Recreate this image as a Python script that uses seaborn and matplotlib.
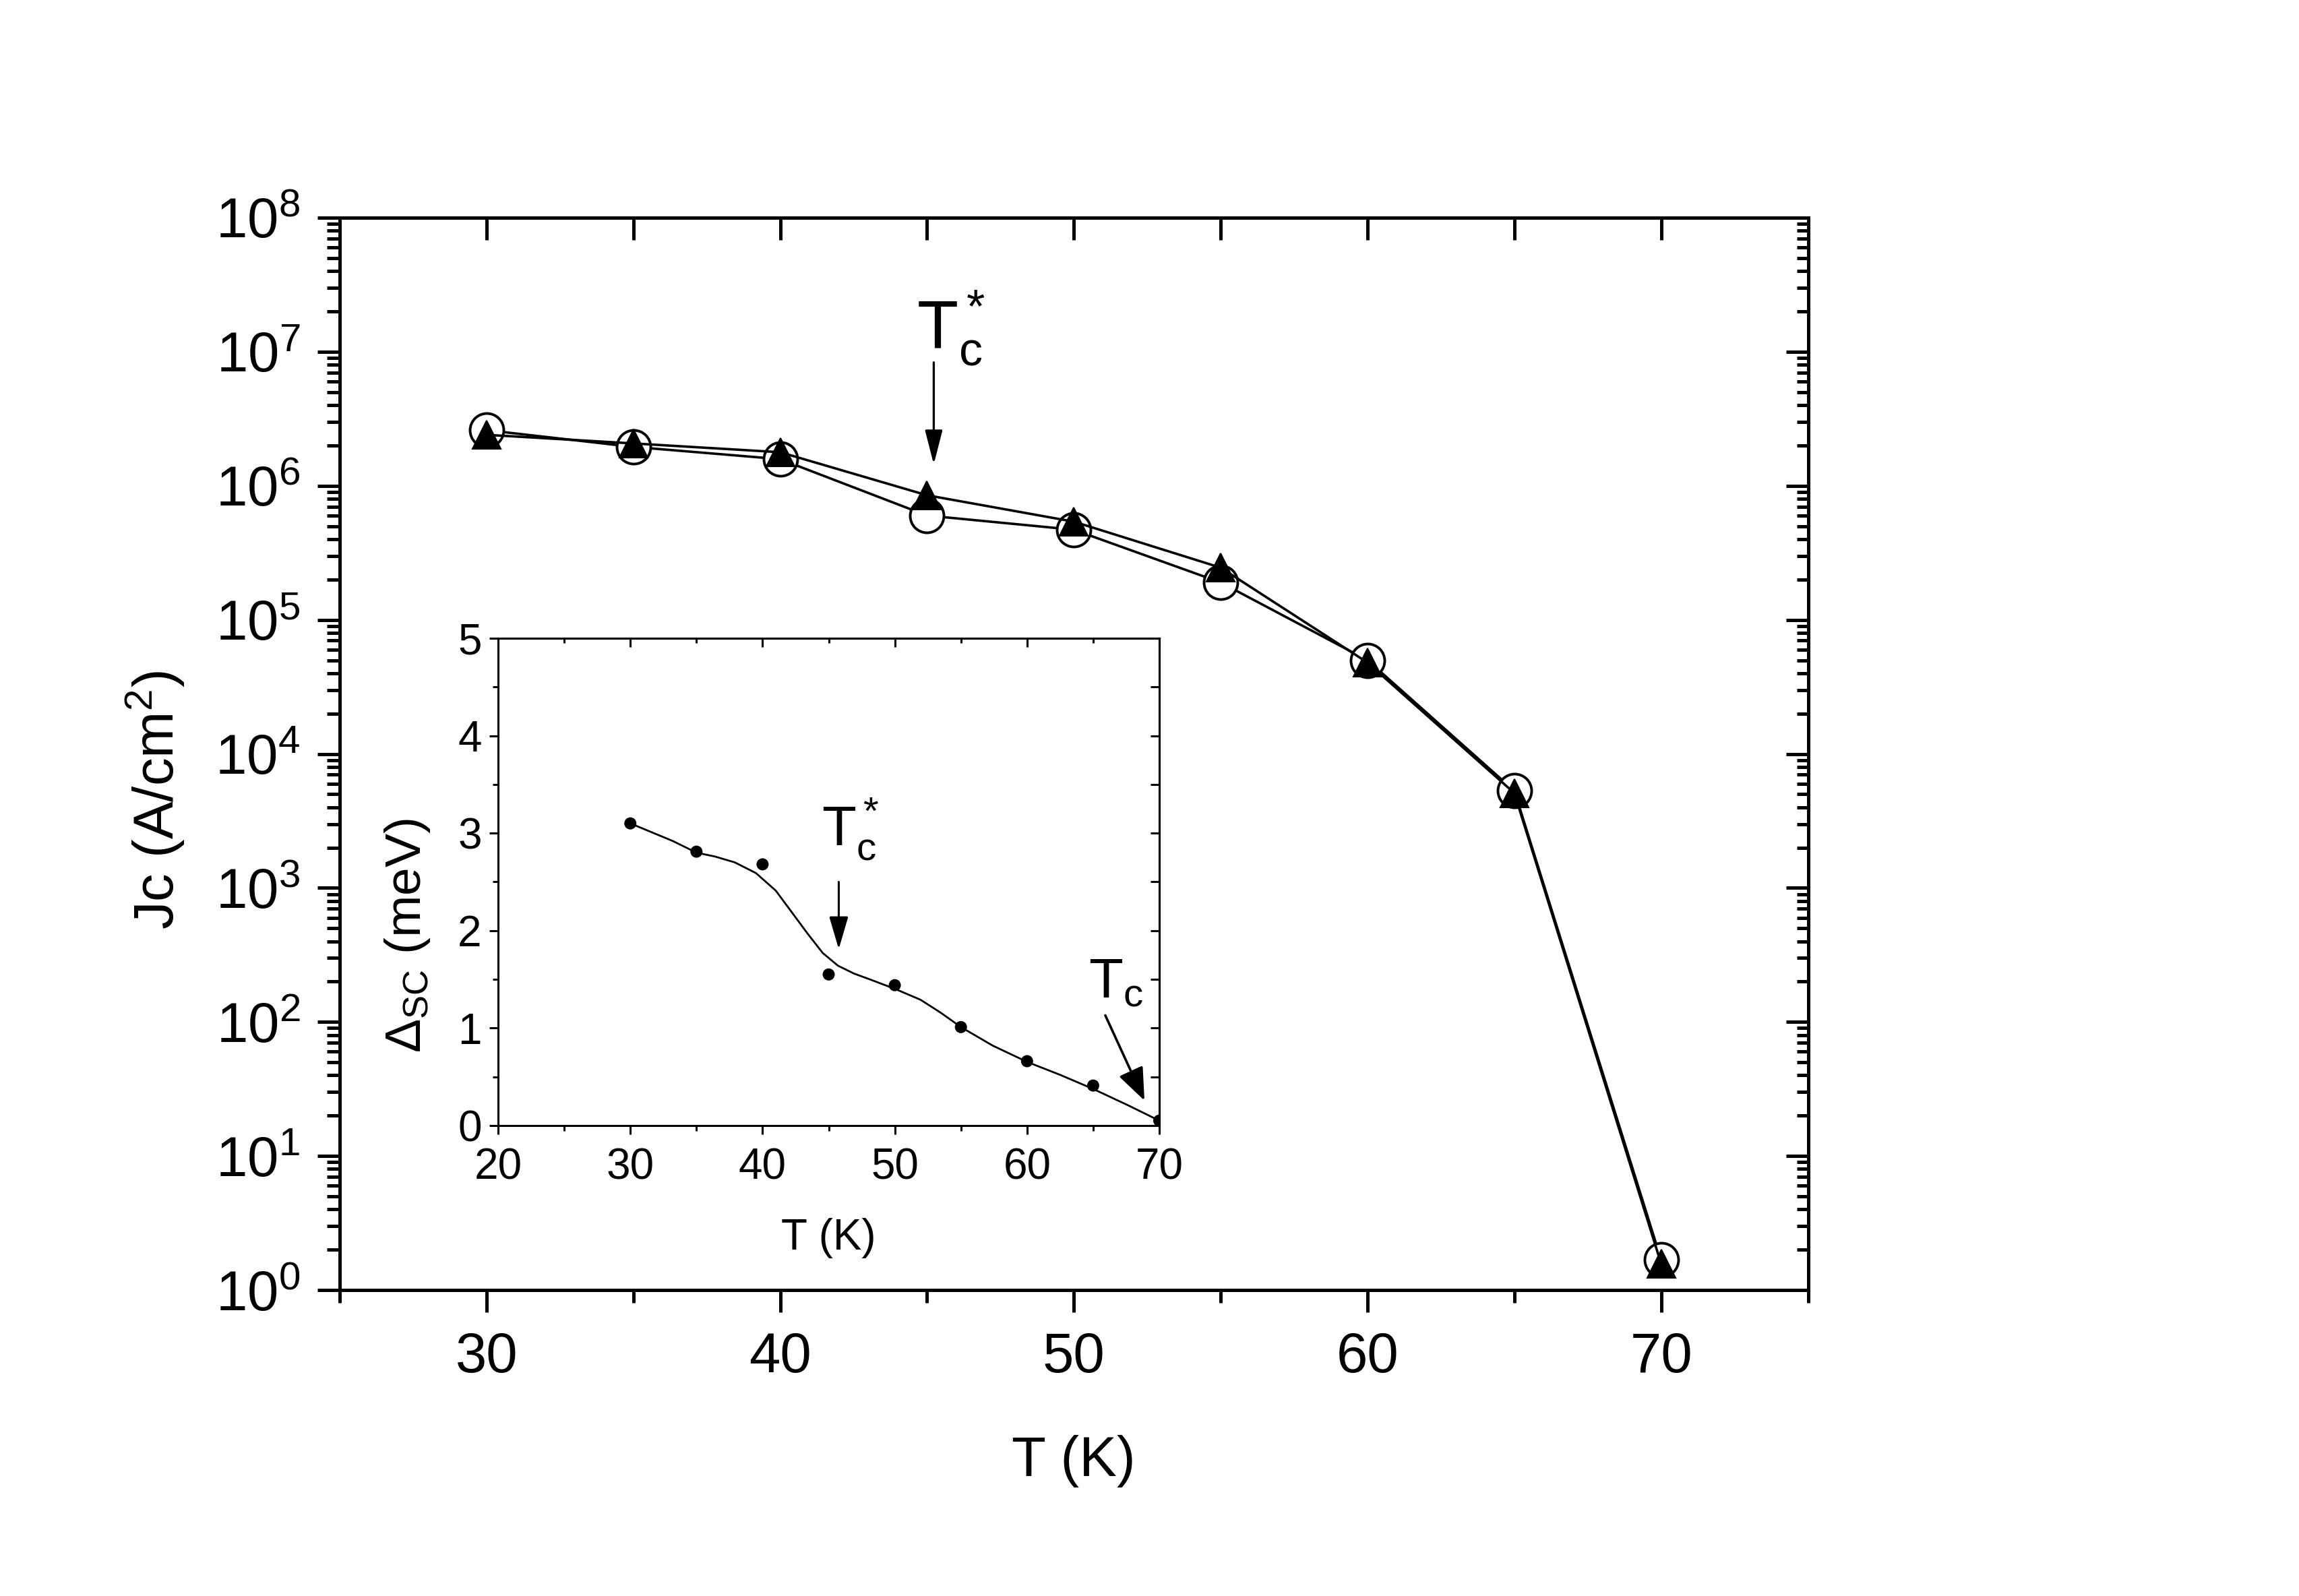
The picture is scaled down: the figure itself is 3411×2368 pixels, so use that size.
import numpy as np
import pandas as pd
import matplotlib
matplotlib.use("Agg")
import matplotlib.pyplot as plt
import matplotlib.ticker as mticker
import seaborn as sns

# ---- data ----
temps = [30, 35, 40, 45, 50, 55, 60, 65, 70]
jc_circle = [2.6e6, 1.95e6, 1.58e6, 6.0e5, 4.7e5, 1.9e5, 5.0e4, 5.3e3, 1.68]
jc_triangle = [2.4e6, 2.07e6, 1.78e6, 8.5e5, 5.4e5, 2.45e5, 4.8e4, 5.1e3, 1.57]

gap_T = [30, 35, 40, 45, 50, 55, 60, 65, 70]
gap_meV = [3.10, 2.81, 2.68, 1.55, 1.44, 1.01, 0.66, 0.41, 0.05]

# smooth guide line through the gap data (traced)
fit_T = [30, 33.2, 35, 36.4, 37.9, 39.5, 41.0, 42.2, 43.4, 44.55, 45.7, 46.9,
         48.1, 50.05, 51.95, 53.5, 55.0, 57.4, 60.05, 62.5, 65.0, 67.6, 70.0]
fit_meV = [3.10, 2.92, 2.80, 2.76, 2.70, 2.59, 2.41, 2.19, 1.97, 1.77, 1.64, 1.56,
           1.50, 1.40, 1.29, 1.155, 1.01, 0.82, 0.65, 0.52, 0.375, 0.21, 0.05]

df_main = pd.DataFrame({"T": temps, "circle": jc_circle, "triangle": jc_triangle})

# ---- style ----
sns.set_style("ticks")
plt.rcParams["font.family"] = ["Liberation Sans", "DejaVu Sans"]
plt.rcParams["mathtext.fontset"] = "custom"
plt.rcParams["mathtext.rm"] = "Liberation Sans"
plt.rcParams["mathtext.it"] = "Liberation Sans:italic"
plt.rcParams["mathtext.bf"] = "Liberation Sans:bold"
for key in ["text.color", "axes.labelcolor", "xtick.color", "ytick.color",
            "axes.edgecolor", "xtick.labelcolor", "ytick.labelcolor"]:
    plt.rcParams[key] = "black"

fig = plt.figure(figsize=(17.06, 11.84), dpi=200)
ax = fig.add_axes([0.1477, 0.1917, 0.6385, 0.6719])

# ====================================
# Main panel: Jc vs T
# ====================================
sns.lineplot(data=df_main, x="T", y="circle", ax=ax, color="black", lw=1.3,
             marker="o", markersize=18, markerfacecolor="white",
             markeredgecolor="black", markeredgewidth=1.4)
sns.lineplot(data=df_main, x="T", y="triangle", ax=ax, color="black", lw=1.3,
             marker="^", markersize=15, markerfacecolor="black",
             markeredgecolor="black")

ax.set_yscale("log")
ax.set_xlim(25, 75)
ax.set_ylim(1, 1e8)
ax.xaxis.set_major_locator(mticker.MultipleLocator(10))
ax.xaxis.set_minor_locator(mticker.MultipleLocator(5))
ax.yaxis.set_major_locator(mticker.LogLocator(base=10, numticks=20))
ax.yaxis.set_minor_locator(mticker.LogLocator(base=10, subs=np.arange(2, 10), numticks=20))
ax.yaxis.set_minor_formatter(mticker.NullFormatter())

for sp in ax.spines.values():
    sp.set_linewidth(1.8)
    sp.set_color("black")
ax.tick_params(which="major", direction="out", length=12, width=1.8,
               labelsize=30, top=False, right=False, colors="black")
ax.tick_params(which="minor", direction="out", length=6.8, width=1.8,
               top=False, right=False, colors="black")
ax.tick_params(axis="x", which="major", pad=10)
ax.tick_params(axis="y", which="major", pad=9)

# inward ticks on top and right
top = ax.secondary_xaxis("top")
top.xaxis.set_major_locator(mticker.MultipleLocator(5))
top.tick_params(direction="in", length=12, width=1.8, labeltop=False, colors="black")
top.spines["top"].set_linewidth(1.8)
right = ax.secondary_yaxis("right")
right.yaxis.set_major_locator(mticker.LogLocator(base=10, numticks=20))
right.yaxis.set_minor_locator(mticker.LogLocator(base=10, subs=np.arange(2, 10), numticks=20))
right.tick_params(which="major", direction="in", length=12, width=1.8,
                  labelright=False, colors="black")
right.tick_params(which="minor", direction="in", length=6, width=1.8,
                  labelright=False, colors="black")
right.yaxis.set_minor_formatter(mticker.NullFormatter())
right.spines["right"].set_linewidth(1.8)

ax.set_xlabel("T (K)", fontsize=30)
ax.set_ylabel("Jc (A/cm$^{2}$)", fontsize=30)
ax.xaxis.set_label_coords(0.5, -0.135)
ax.yaxis.set_label_coords(-0.104, 0.457)

ax.text(44.65, 10 ** 7.03, r"$\mathregular{T_c^*}$", fontsize=36, va="baseline", ha="left")
ax.annotate("", xy=(45.23, 10 ** 6.16), xytext=(45.23, 10 ** 6.92),
            arrowprops=dict(arrowstyle="-|>,head_length=0.78,head_width=0.2",
                            mutation_scale=20, color="black", lw=1.2,
                            shrinkA=0, shrinkB=0))

# ====================================
# Inset: superconducting gap vs T
# ====================================
ax_in = fig.add_axes([0.2166, 0.2948, 0.2875, 0.3053])
sns.lineplot(x=fit_T, y=fit_meV, ax=ax_in, color="black", lw=1.0, sort=False)
sns.scatterplot(x=gap_T, y=gap_meV, ax=ax_in, color="black", s=42,
                edgecolor="none", zorder=3)

ax_in.set_xlim(20, 70)
ax_in.set_ylim(0, 5)
ax_in.xaxis.set_major_locator(mticker.MultipleLocator(10))
ax_in.xaxis.set_minor_locator(mticker.MultipleLocator(5))
ax_in.yaxis.set_major_locator(mticker.MultipleLocator(1))
ax_in.yaxis.set_minor_locator(mticker.MultipleLocator(0.5))
for sp in ax_in.spines.values():
    sp.set_linewidth(1.1)
    sp.set_color("black")
ax_in.tick_params(which="major", direction="out", length=4.7, width=1.1,
                  labelsize=23, top=False, right=False, colors="black")
ax_in.tick_params(which="minor", direction="out", length=2.9, width=1.1,
                  top=False, right=False, colors="black")
ax_in.tick_params(axis="x", which="major", pad=7)
ax_in.tick_params(axis="y", which="major", pad=4)

top_in = ax_in.secondary_xaxis("top")
top_in.xaxis.set_major_locator(mticker.MultipleLocator(10))
top_in.xaxis.set_minor_locator(mticker.MultipleLocator(5))
top_in.tick_params(which="major", direction="in", length=4.7, width=1.1,
                   labeltop=False, colors="black")
top_in.tick_params(which="minor", direction="in", length=2.6, width=1.1, colors="black")
top_in.spines["top"].set_linewidth(1.1)
right_in = ax_in.secondary_yaxis("right")
right_in.yaxis.set_major_locator(mticker.MultipleLocator(1))
right_in.yaxis.set_minor_locator(mticker.MultipleLocator(0.5))
right_in.tick_params(which="both", direction="in", length=4.7, width=1.1,
                     labelright=False, colors="black")
right_in.spines["right"].set_linewidth(1.1)

ax_in.set_xlabel("T (K)", fontsize=23)
ax_in.set_ylabel(r"Δ$_{\mathregular{SC}}$ (meV)", fontsize=27)
ax_in.xaxis.set_label_coords(0.5, -0.19)
ax_in.yaxis.set_label_coords(-0.10, 0.39)

ax_in.text(44.47, 2.87, r"$\mathregular{T_c^*}$", fontsize=30, va="baseline", ha="left")
ax_in.annotate("", xy=(45.76, 1.81), xytext=(45.76, 2.50),
               arrowprops=dict(arrowstyle="-|>,head_length=0.75,head_width=0.22",
                               mutation_scale=20, color="black", lw=1.1,
                               shrinkA=0, shrinkB=0))
ax_in.text(64.65, 1.31, r"$\mathregular{T_c}$", fontsize=30, va="baseline", ha="left")
ax_in.annotate("", xy=(68.88, 0.256), xytext=(65.92, 1.13),
               arrowprops=dict(arrowstyle="-|>,head_length=0.75,head_width=0.3",
                               mutation_scale=20, color="black", lw=1.3,
                               shrinkA=0, shrinkB=0))

fig.savefig("out.png", dpi=200, facecolor="white")
